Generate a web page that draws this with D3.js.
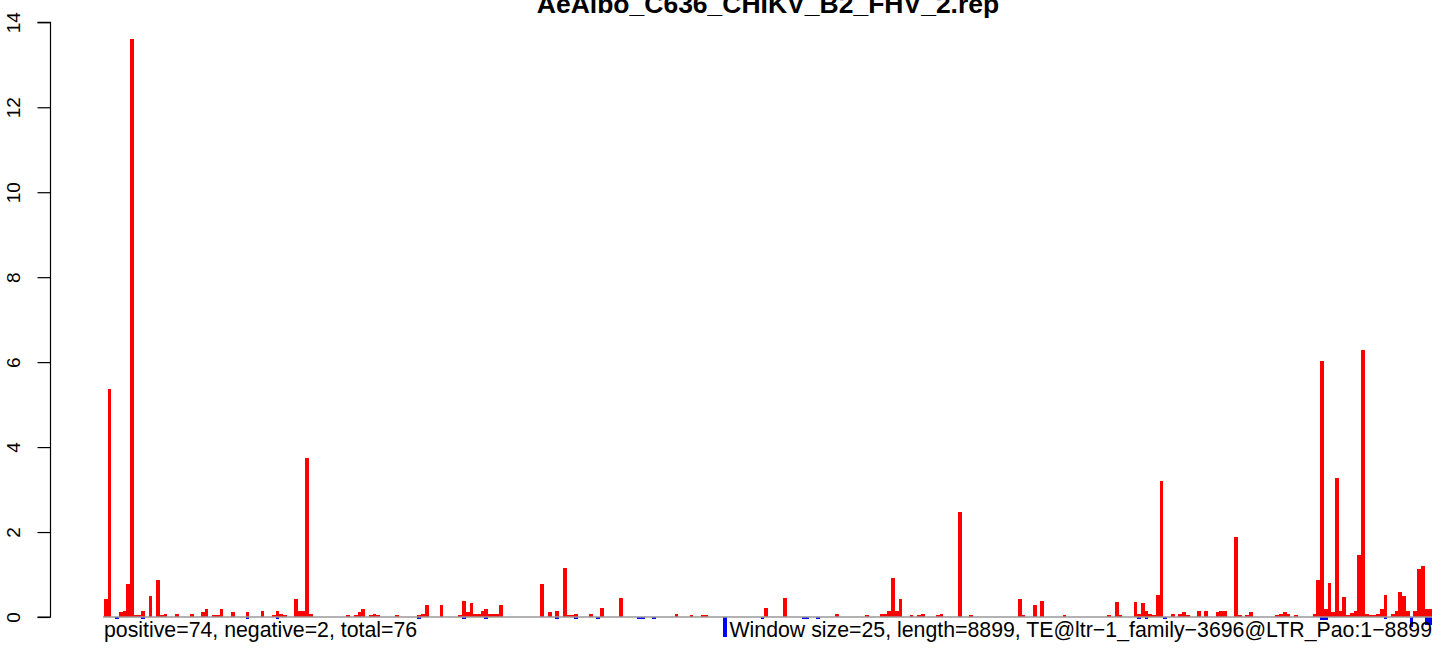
<!DOCTYPE html>
<html>
<head>
<meta charset="utf-8">
<script src="https://cdn.jsdelivr.net/npm/d3@7"></script>
<style>
  html, body { margin: 0; padding: 0; background: #fff; }
  svg { display: block; }
  text { font-family: "Liberation Sans", Arial, Helvetica, sans-serif; }
</style>
</head>
<body>
<svg id="chart" width="1444" height="648"></svg>
<script>
const title = "AeAlbo_C636_CHIKV_B2_FHV_2.rep";
const leftNote = "positive=74, negative=2, total=76";
const rightNote = "Window size=25, length=8899, TE@ltr\u22121_family\u22123696@LTR_Pao:1\u22128899";
const yTicks = [0, 2, 4, 6, 8, 10, 12, 14];

// positive-strand values per window (356 windows of 25 nt)
const positive = [
  0.42,5.37,0,0,0.12,0.14,0.78,13.6,0.04,0.04,0.14,0,0.49,0,0.87,0.04,0.07,0,0,0.07,
  0,0,0,0.07,0,0,0.12,0.19,0,0.05,0.05,0.19,0,0,0.12,0,0,0,0.12,0,
  0,0,0.14,0,0,0.05,0.14,0.07,0.04,0,0,0.42,0.14,0.14,3.74,0.07,0,0,0,0,
  0,0,0,0,0,0.05,0,0.05,0.12,0.19,0,0.05,0.07,0.05,0,0,0,0,0.05,0,
  0,0,0,0,0.05,0.07,0.28,0,0,0,0.28,0,0,0,0,0.05,0.38,0.12,0.33,0.07,
  0.07,0.14,0.19,0.07,0.07,0.07,0.28,0,0,0,0,0,0,0,0,0,0,0.78,0,0.12,
  0,0.14,0,1.15,0.04,0.04,0.07,0,0,0,0.07,0,0,0.21,0,0,0,0,0.45,0,
  0,0,0,0,0,0,0,0,0,0,0,0,0,0.07,0,0,0,0.05,0,0,
  0.05,0.05,0,0,0,0,0,0,0,0,0,0,0,0,0,0,0,0.21,0,0,
  0,0,0.45,0,0,0,0,0,0,0,0,0,0,0,0,0,0.07,0,0,0,
  0,0,0,0,0.05,0,0,0,0.07,0.07,0.14,0.92,0.14,0.42,0,0,0.05,0,0.05,0.07,
  0,0,0,0.05,0.07,0,0,0,0,2.47,0,0,0.05,0,0,0,0,0,0,0,
  0,0,0,0,0,0.42,0.04,0,0,0.28,0,0.38,0,0,0,0,0,0.05,0,0,
  0,0,0,0,0,0,0,0,0,0.05,0,0.35,0.05,0,0,0,0.35,0.07,0.33,0.14,
  0.07,0.05,0.52,3.2,0,0,0.07,0,0.07,0.12,0.05,0,0,0.14,0,0.14,0,0,0.12,0.14,
  0.14,0,0,1.88,0.04,0,0.05,0.12,0,0,0,0,0,0,0.04,0.07,0.12,0.07,0,0.05,
  0,0,0,0,0.07,0.88,6.03,0.2,0.81,0.12,3.28,0.15,0.46,0.05,0.09,0.13,1.46,6.28,0.08,0.05,
  0.05,0.08,0.2,0.52,0,0.07,0.13,0.59,0.49,0.15,0,0.15,1.14,1.2,0.2,0.2
];

// negative-strand values per window
const negative = [
  0,0,0,-0.05,0,0,0,0,0,0,-0.05,0,0,0,0,0,0,0,0,0,
  0,0,0,0,0,0,0,0,0,0,0,0,0,0,0,0,0,0,-0.05,0,
  0,0,0,0,0,0,-0.05,0,0,0,0,0,0,0,0,0,0,0,0,0,
  0,0,0,0,0,0,0,0,0,0,0,0,0,0,0,0,0,0,0,0,
  0,0,0,0,-0.05,0,0,0,0,0,0,0,0,0,0,0,-0.05,0,0,0,
  0,0,-0.05,0,0,0,0,0,0,0,0,0,0,0,0,0,0,0,0,0,
  0,-0.05,0,0,0,0,-0.05,0,0,0,0,0,-0.05,0,0,0,0,0,0,0,
  0,0,0,-0.05,-0.05,0,0,-0.05,0,0,0,0,0,0,0,0,0,0,0,0,
  0,0,0,0,0,0,-0.46,0,0,0,0,0,0,0,0,0,-0.05,0,0,0,
  0,0,0,0,0,0,0,-0.05,-0.05,0,0,-0.05,0,0,0,0,0,0,0,0,
  0,0,0,0,0,0,0,0,0,0,0,0,0,0,0,0,0,0,0,0,
  0,0,0,0,0,0,0,0,0,0,0,0,0,0,0,0,0,0,0,0,
  0,0,0,0,0,0,0,0,0,0,0,0,0,0,0,0,0,0,0,0,
  0,0,0,0,0,0,0,0,0,0,0,0,0,0,0,0,0,-0.05,0,-0.05,
  0,0,0,0,-0.05,0,0,0,0,0,0,0,0,0,0,0,0,0,0,0,
  0,0,0,0,0,0,0,0,0,0,0,0,0,0,0,0,0,0,0,0,
  0,0,0,0,0,0,-0.07,-0.07,0,0,0,0,0,0,0,0,0,0,0,0,
  0,0,0,-0.04,0,0,0,0,0,0,-0.24,0,0,0,-0.2,-0.2
];

const svg = d3.select("#chart");
const nWin = positive.length;

const x = d3.scaleBand().domain(d3.range(nWin)).range([104, 1432]).padding(0);
const y = d3.scaleLinear().domain([0, 14]).range([617, 22.3]);

// positive bars
svg.append("g").selectAll("rect")
  .data(positive.map((v, i) => ({ i, v })).filter(d => d.v > 0))
  .join("rect")
  .attr("x", d => x(d.i))
  .attr("width", x.bandwidth())
  .attr("y", d => y(d.v))
  .attr("height", d => y(0) - y(d.v))
  .attr("fill", "#ff0000")
  .attr("shape-rendering", "crispEdges");

// negative bars
svg.append("g").selectAll("rect")
  .data(negative.map((v, i) => ({ i, v })).filter(d => d.v < 0))
  .join("rect")
  .attr("x", d => x(d.i))
  .attr("width", x.bandwidth())
  .attr("y", y(0))
  .attr("height", d => y(d.v) - y(0))
  .attr("fill", "#0000ff")
  .attr("shape-rendering", "crispEdges");

// baseline
svg.append("line")
  .attr("x1", 103).attr("x2", 1432)
  .attr("y1", y(0)).attr("y2", y(0))
  .attr("stroke", "#999999").attr("stroke-width", 1.5);

// y axis
const yAxis = d3.axisLeft(y).tickValues(yTicks).tickSize(13).tickPadding(0).tickFormat(d3.format("d"));
const ga = svg.append("g").attr("transform", "translate(50.5,0)").call(yAxis);
ga.select(".domain").attr("d", `M-13,${y(14)}H0V${y(0)}H-13`).attr("stroke", "#000").attr("stroke-width", 1.2);
ga.selectAll(".tick line").attr("stroke", "#000").attr("stroke-width", 1.2);
ga.selectAll(".tick text")
  .attr("x", 0).attr("dy", null)
  .attr("transform", "translate(-37,0) rotate(-90)")
  .attr("text-anchor", "middle")
  .attr("dominant-baseline", "central")
  .attr("font-size", 19)
  .attr("fill", "#000");

// title
svg.append("text")
  .attr("x", 768).attr("y", 13)
  .attr("text-anchor", "middle")
  .attr("font-size", 26.5).attr("font-weight", "bold")
  .attr("fill", "#000")
  .text(title);

// bottom notes
svg.append("text")
  .attr("x", 104).attr("y", 637)
  .attr("font-size", 21.3).attr("fill", "#000")
  .text(leftNote);
svg.append("text")
  .attr("x", 1432).attr("y", 637)
  .attr("text-anchor", "end")
  .attr("font-size", 21.3).attr("fill", "#000")
  .text(rightNote);
</script>
</body>
</html>
